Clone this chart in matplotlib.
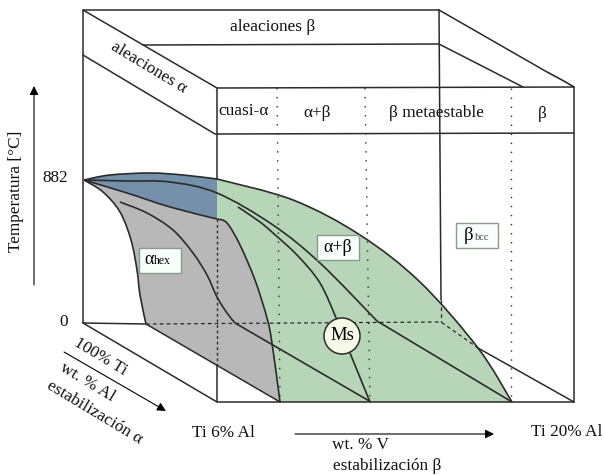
"""Ti alloy pseudo-binary phase diagram, drawn in image pixel coordinates"""

import matplotlib

matplotlib.use("Agg")

import matplotlib.pyplot as plt
from matplotlib.patches import Circle, PathPatch, Rectangle
from matplotlib.path import Path

plt.rcParams["font.family"] = ["Liberation Serif", "DejaVu Serif"]

INK = "#2b2b2b"
GREEN = "#b7d6b7"
GREY = "#b8b8b8"
BLUE = "#7590ab"

# phase boundaries, (x, y)
transus_back = [(84, 180), (110, 175), (150, 173), (183, 175), (217, 179)]
transus_front = [(217, 179), (293, 200), (360, 235), (420, 282), (478, 348), (512, 402)]
solvus_back = [(84, 180), (103, 192), (120, 212), (131, 240), (137, 270), (140, 295), (146, 324)]
blue_edge = [(84, 180), (127, 193), (170, 207), (217, 219)]
solvus_front = [(217, 219), (227, 223), (240, 245), (255, 280), (267, 318), (272, 343), (280, 402)]
mf_curve = [(120, 202), (147, 213), (173, 230), (193, 253), (207, 275), (217, 297), (227, 313), (235, 323)]
mf_tail = [(235, 323), (371, 402)]
upper_curve = [(84, 180), (127, 181), (170, 182), (217, 193), (273, 225), (320, 263), (377, 321)]
upper_tail = [(377, 321), (512, 402)]
ms_curve_upper = [(238, 207), (260, 222), (273, 233), (297, 255), (320, 283), (337, 320)]
ms_curve_lower = [(350, 353), (370, 402)]
box_corner = [(547, 72), (562, 80), (574, 87)]

# box edges
box_lines = [
    [(83, 323), (83, 10), (439, 10)],
    [(83, 10), (217, 88), (574, 87)],
    [(83, 55), (215, 134), (574, 133)],
    [(143, 45), (439, 44), (523, 87)],
    [(439, 10), (547, 72)],
    [(574, 87), (574, 402)],
    [(439, 10), (441, 300)],
    [(217, 88), (217, 179)],
    [(217, 365), (217, 402), (574, 402)],
    [(83, 323), (217, 402)],
    [(83, 323), (146, 324), (280, 402)],
    [(478, 348), (574, 402)],
]
dashed_lines = [
    [(146, 324), (441, 322), (478, 348)],
    [(441, 300), (441, 322)],
]
dotted_lines = [
    [(277, 88), (280, 402)],
    [(365, 88), (370, 402)],
    [(511, 88), (511, 402)],
]

region_labels = [
    ("aleaciones β", 273, 27, 0),
    ("aleaciones α", 149, 68, -31),
    ("cuasi-α", 244, 111, 0),
    ("α+β", 317, 113, 0),
    ("β metaestable", 436, 113, 0),
    ("β", 542, 114, 0),
    ("882", 55, 178, 0),
    ("0", 64, 322, 0),
    ("Temperatura [°C]", 16, 191, 90),
    ("100% Ti", 100, 357, -31),
    ("wt. % Al", 87, 382, -31),
    ("estabilización α", 95, 413, -31),
    ("Ti 6% Al", 223, 433, 0),
    ("Ti 20% Al", 567, 432, 0),
    ("wt. % V", 361, 445, 0),
    ("estabilización β", 387, 466, 0),
]
arrows = [[(34, 285), (34, 86)], [(64, 352), (166, 411)], [(295, 434), (494, 434)]]


def bezier_through(points):
    """Catmull-Rom control points, so matplotlib draws a smooth edge"""
    verts = []
    for i in range(len(points) - 1):
        p0 = points[max(i - 1, 0)]
        p1 = points[i]
        p2 = points[i + 1]
        p3 = points[min(i + 2, len(points) - 1)]
        verts.append((p1[0] + (p2[0] - p0[0]) / 6, p1[1] + (p2[1] - p0[1]) / 6))
        verts.append((p2[0] - (p3[0] - p1[0]) / 6, p2[1] - (p3[1] - p1[1]) / 6))
        verts.append(p2)
    return verts


def closed_path(*edges):
    """Join smooth edges into a closed outline; each edge starts where the last ended"""
    verts = [edges[0][0]]
    codes = [Path.MOVETO]
    for edge in edges:
        if verts[-1] != edge[0]:
            verts.append(edge[0])
            codes.append(Path.LINETO)
        curve = bezier_through(edge)
        verts.extend(curve)
        codes.extend([Path.CURVE4] * len(curve))
    verts.append(verts[0])
    codes.append(Path.CLOSEPOLY)
    return Path(verts, codes)


def draw_curve(ax, points, lw=1.2):
    verts = [points[0]] + bezier_through(points)
    codes = [Path.MOVETO] + [Path.CURVE4] * (len(verts) - 1)
    ax.add_patch(PathPatch(Path(verts, codes), fc="none", ec=INK, lw=lw, zorder=3))


def draw_line(ax, points, **style):
    xs, ys = zip(*points)
    ax.plot(xs, ys, color=INK, solid_capstyle="round", **style)


fig = plt.figure(figsize=(6.04, 4.75), dpi=100)
ax = fig.add_axes([0, 0, 1, 1])
ax.set_xlim(0, 604)
ax.set_ylim(475, 0)
ax.axis("off")

ax.add_patch(
    PathPatch(
        closed_path(transus_front, [(512, 402), (280, 402)], solvus_front[::-1]),
        fc=GREEN, ec="none", zorder=1,
    )
)
ax.add_patch(
    PathPatch(closed_path(transus_back, blue_edge[::-1]), fc=BLUE, ec="none", zorder=1)
)
ax.add_patch(
    PathPatch(
        closed_path(solvus_back, [(146, 324), (280, 402)], solvus_front[::-1], blue_edge[::-1]),
        fc=GREY, ec="none", zorder=1,
    )
)

for line in box_lines:
    draw_line(ax, line, lw=1.1, zorder=2)
for line in dashed_lines:
    draw_line(ax, line, lw=0.9, ls=(0, (3, 2.5)), zorder=2)
for line in dotted_lines:
    draw_line(ax, line, lw=1.0, ls=(0, (1, 5.5)), zorder=2)
draw_line(ax, [(217, 219), (217, 365)], lw=1.0, ls=(0, (2, 2)), zorder=2)

for curve in (
    transus_back, transus_front, solvus_back, blue_edge, solvus_front,
    mf_curve, mf_tail, upper_curve, upper_tail, ms_curve_upper, ms_curve_lower,
    box_corner,
):
    draw_curve(ax, curve)

ax.add_patch(Circle((342, 336), 18, fc="#f6fbe9", ec=INK, lw=1.1, zorder=4))
ax.text(342, 336, "Ms", fontsize=13.5, ha="center", va="center", zorder=5)

for x0, y0 in [(139, 248), (317, 235), (456, 223)]:
    ax.add_patch(
        Rectangle((x0, y0), 42, 25, fc="#f8fef9", ec="#8a9a8e", lw=1.0, zorder=4)
    )
ax.text(144, 260, "α", fontsize=13, va="center", zorder=5)
ax.text(153.5, 261, "hex", fontsize=8.5, va="center", zorder=5)
ax.text(338, 247, "α+β", fontsize=13, ha="center", va="center", zorder=5)
ax.text(464, 235, "β", fontsize=13.5, va="center", zorder=5)
ax.text(474.5, 237, "bcc", fontsize=7.5, va="center", color="#444444", zorder=5)

for label, x, y, angle in region_labels:
    ax.text(
        x, y, label, fontsize=12.4, ha="center", va="center", rotation=angle,
        rotation_mode="anchor", color="#111111", zorder=5,
    )

for (x0, y0), (x1, y1) in arrows:
    ax.annotate(
        "", xy=(x1, y1), xytext=(x0, y0),
        arrowprops=dict(
            arrowstyle="-|>", color="black", lw=0.8, shrinkA=0, shrinkB=0, mutation_scale=13
        ),
    )

fig.savefig("out.png", dpi=100)
